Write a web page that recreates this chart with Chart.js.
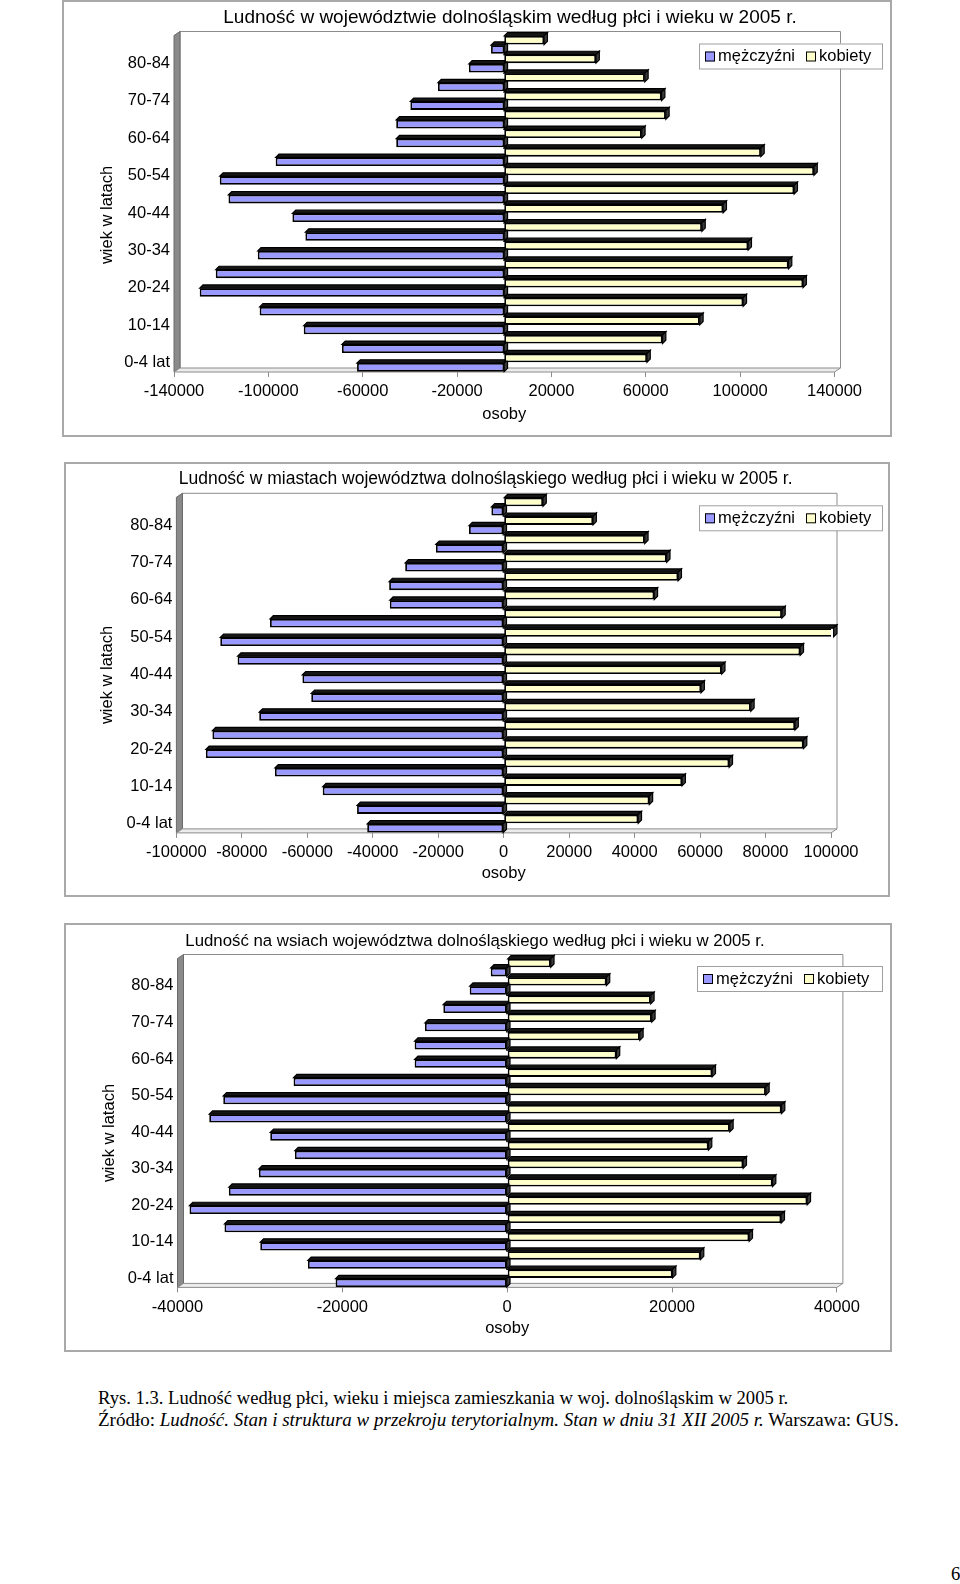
<!DOCTYPE html>
<html><head><meta charset="utf-8">
<script src="https://cdn.jsdelivr.net/npm/chart.js@4.4.1/dist/chart.umd.min.js"></script>
<style>
html,body{margin:0;padding:0;background:#fff;}
body{width:960px;height:1584px;overflow:hidden;position:relative;}
canvas{position:absolute;}
.frame{position:absolute;box-sizing:border-box;border:2px solid #a9a9a9;pointer-events:none;}
.cap{position:absolute;left:98px;font-family:"Liberation Serif","Times New Roman",serif;font-size:18.6px;line-height:19px;color:#000;white-space:nowrap;}
</style></head><body>
<canvas id="c1" width="830" height="437" style="left:62px;top:0px"></canvas>
<div class="frame" style="left:62px;top:0px;width:830px;height:437px"></div>
<canvas id="c2" width="826" height="435" style="left:64px;top:462px"></canvas>
<div class="frame" style="left:64px;top:462px;width:826px;height:435px"></div>
<canvas id="c3" width="828" height="429" style="left:64px;top:923px"></canvas>
<div class="frame" style="left:64px;top:923px;width:828px;height:429px"></div>
<div class="cap" style="top:1388px">Rys. 1.3. Ludność według płci, wieku i miejsca zamieszkania w woj. dolnośląskim w 2005 r.</div>
<div class="cap" style="top:1410px;font-size:19px">Źródło: <i>Ludność. Stan i struktura w przekroju terytorialnym. Stan w dniu 31 XII 2005 r.</i> Warszawa: GUS.</div>
<div class="cap" style="top:1564px;left:951px">6</div>
<script>
// ---- data (top to bottom of each pyramid) ----
const ageGroups = ['85 i więcej','80-84','75-79','70-74','65-69','60-64','55-59','50-54','45-49','40-44','35-39','30-34','25-29','20-24','15-19','10-14','5-9','0-4 lat'];
const seriesNames = ['mężczyźni','kobiety'];
const yAxisTitle = 'wiek w latach';
const xAxisTitle = 'osoby';

const title1 = 'Ludność w województwie dolnośląskim według płci i wieku w 2005 r.';
const menTotal   = [5600,15000,28100,39800,45800,45800,96900,120600,116900,89800,84300,104500,122300,129100,103700,85000,68800,62400];
const womenTotal = [16900,38900,59600,66700,68500,58300,108800,131300,122900,92800,83800,103400,120500,126700,101300,82900,67100,60500];
const ticks1 = [-140000,140000,40000];

const title2 = 'Ludność w miastach województwa dolnośląskiego według płci i wieku w 2005 r.';
const menUrban   = [3760,10600,20700,30100,35000,34800,71400,86600,81300,61500,58800,74700,89000,91000,69900,55300,44800,41700];
const womenUrban = [12000,27300,43100,49800,53300,46000,85000,100800,90600,66600,60300,75500,89000,91600,68900,54500,44500,41100];
const ticks2 = [-100000,100000,20000];

const title3 = 'Ludność na wsiach województwa dolnośląskiego według płci i wieku w 2005 r.';
const menRural   = [2000,4550,7750,9980,11230,11230,25920,34450,36150,28750,25760,30130,33770,38540,34300,29960,24180,20820];
const womenRural = [5280,12040,17420,17540,16090,13250,24870,31380,33280,27010,24420,28630,32190,36400,33240,29360,23450,20060];
const ticks3 = [-40000,40000,20000];

const MEN_COLOR = '#9999ff', WOMEN_COLOR = '#ffffcc';
const FONT_FAMILY = '"Liberation Sans", Arial, sans-serif';
const FONT_SIZE = 16.5;

Chart.defaults.font.family = FONT_FAMILY;
Chart.defaults.font.size = FONT_SIZE;
Chart.defaults.color = '#000';

// ---- decorative plugins (walls, 3D bar sides, titles, boxed legend) ----
const excel3d = {
  id: 'excel3d',
  beforeDatasetsDraw(chart) {
    const {ctx, chartArea: a} = chart;
    const dx = 6, dy = 4;
    ctx.save();
    ctx.lineWidth = 1;
    ctx.strokeStyle = '#8c8c8c';
    ctx.beginPath();
    ctx.moveTo(a.left + dx, a.bottom - dy);
    ctx.lineTo(a.left + dx, a.top - dy);
    ctx.lineTo(a.right + dx, a.top - dy);
    ctx.lineTo(a.right + dx, a.bottom - dy);
    ctx.stroke();
    ctx.beginPath();
    ctx.moveTo(a.left, a.top); ctx.lineTo(a.left + dx, a.top - dy);
    ctx.lineTo(a.left + dx, a.bottom - dy); ctx.lineTo(a.left, a.bottom); ctx.closePath();
    ctx.fillStyle = '#8a8a8a'; ctx.fill(); ctx.strokeStyle = '#6a6a6a'; ctx.stroke();
    ctx.beginPath();
    ctx.moveTo(a.left, a.bottom); ctx.lineTo(a.left + dx, a.bottom - dy);
    ctx.lineTo(a.right + dx, a.bottom - dy); ctx.lineTo(a.right, a.bottom); ctx.closePath();
    ctx.fillStyle = '#ececec'; ctx.fill(); ctx.strokeStyle = '#8c8c8c'; ctx.stroke();
    ctx.restore();
  },
  beforeDatasetDraw(chart, args) {
    const ctx = chart.ctx, d = 3.3;
    ctx.save();
    ctx.lineWidth = 1.2; ctx.strokeStyle = '#000';
    args.meta.data.forEach(el => {
      const p = el.getProps(['x', 'y', 'base', 'height'], true);
      const l = Math.min(p.x, p.base), r = Math.max(p.x, p.base);
      const t = p.y - p.height / 2, b = p.y + p.height / 2;
      ctx.beginPath(); ctx.moveTo(l, t); ctx.lineTo(l + d, t - d); ctx.lineTo(r + d, t - d); ctx.lineTo(r, t); ctx.closePath();
      ctx.fillStyle = '#161616'; ctx.fill(); ctx.stroke();
      ctx.beginPath(); ctx.moveTo(r, t); ctx.lineTo(r + d, t - d); ctx.lineTo(r + d, b - d); ctx.lineTo(r, b); ctx.closePath();
      ctx.fillStyle = '#3c3c3c'; ctx.fill(); ctx.stroke();
    });
    ctx.restore();
  }
};

const chartTitle = {
  id: 'chartTitle',
  afterDraw(chart, args, o) {
    const ctx = chart.ctx;
    ctx.save();
    ctx.fillStyle = '#000'; ctx.textAlign = 'center'; ctx.textBaseline = 'middle';
    ctx.font = o.size + 'px ' + FONT_FAMILY;
    ctx.fillText(o.text, o.x, o.y);
    ctx.font = FONT_SIZE + 'px ' + FONT_FAMILY;
    ctx.translate(o.axisX, o.axisY);
    ctx.rotate(-Math.PI / 2);
    ctx.fillText(o.axisText, 0, 0);
    ctx.restore();
  }
};

const boxLegend = {
  id: 'boxLegend',
  afterDraw(chart, args, o) {
    const ctx = chart.ctx;
    ctx.save();
    ctx.fillStyle = '#fff'; ctx.fillRect(o.x, o.y, o.w, o.h);
    ctx.strokeStyle = '#a0a0a0'; ctx.lineWidth = 1; ctx.strokeRect(o.x + 0.5, o.y + 0.5, o.w, o.h);
    ctx.font = FONT_SIZE + 'px ' + FONT_FAMILY; ctx.textBaseline = 'middle'; ctx.textAlign = 'left';
    const cy = o.y + o.h / 2 + 0.5;
    let x = o.x + 6;
    o.order.forEach(i => {
      const ds = chart.data.datasets[i];
      ctx.fillStyle = ds.backgroundColor; ctx.fillRect(x, cy - 5, 10, 10);
      ctx.strokeStyle = '#000'; ctx.strokeRect(x + 0.5, cy - 4.5, 9, 9);
      x += 13;
      ctx.fillStyle = '#000'; ctx.fillText(ds.label, x, cy);
      x += ctx.measureText(ds.label).width + 11;
    });
    ctx.restore();
  }
};

function makePyramid(id, title, men, women, tk, g) {
  return new Chart(document.getElementById(id), {
    type: 'bar',
    data: {
      labels: ageGroups,
      datasets: [
        { label: seriesNames[1], data: women, backgroundColor: WOMEN_COLOR },
        { label: seriesNames[0], data: men.map(v => -v), backgroundColor: MEN_COLOR }
      ]
    },
    options: {
      indexAxis: 'y',
      responsive: false,
      animation: false,
      devicePixelRatio: 1,
      datasets: { bar: { categoryPercentage: 1, barPercentage: 0.92, borderWidth: 1.8, borderColor: '#000', borderSkipped: false } },
      layout: { padding: { top: g.top, left: 0, right: g.W - g.right, bottom: 0 } },
      scales: {
        x: {
          type: 'linear', min: tk[0], max: tk[1],
          ticks: { stepSize: tk[2], padding: 5, callback: v => String(v), maxRotation: 0, autoSkip: false },
          grid: { display: true, drawOnChartArea: false, drawTicks: true, tickLength: 5, color: '#8c8c8c' },
          border: { display: false },
          title: { display: true, text: xAxisTitle, padding: { top: 0, bottom: g.xTitlePad } },
          afterFit: s => { s.height = g.H - g.bottom; }
        },
        y: {
          type: 'category',
          ticks: { autoSkip: false, padding: 4, callback: (v, i) => (i % 2 === 1 ? ageGroups[i] : '') },
          grid: { display: false, drawTicks: false },
          border: { display: false },
          title: { display: false, text: yAxisTitle },
          afterFit: s => { s.width = g.left; }
        }
      },
      plugins: {
        legend: { display: false },
        tooltip: { enabled: false },
        chartTitle: { text: title, size: g.titleSize, x: g.titleX, y: g.titleY, axisText: yAxisTitle, axisX: g.yTitleX, axisY: g.yTitleY },
        boxLegend: { x: g.legend[0], y: g.legend[1], w: g.legend[2], h: g.legend[3], order: [1, 0] }
      }
    },
    plugins: [excel3d, chartTitle, boxLegend]
  });
}

makePyramid('c1', title1, menTotal, womenTotal, ticks1,
  { W: 830, H: 437, left: 112, right: 772.5, top: 35.5, bottom: 372, titleSize: 19, titleX: 448, titleY: 17.5,
    legend: [637, 43.5, 183, 25], yTitleX: 45, yTitleY: 215, xTitlePad: 12.8 });
makePyramid('c2', title2, menUrban, womenUrban, ticks2,
  { W: 826, H: 435, left: 112.4, right: 767, top: 35.3, bottom: 370.9, titleSize: 17.5, titleX: 421.6, titleY: 17.5,
    legend: [635, 43.3, 183, 25], yTitleX: 43, yTitleY: 213, xTitlePad: 14 });
makePyramid('c3', title3, menRural, womenRural, ticks3,
  { W: 828, H: 429, left: 113.5, right: 772.9, top: 35.5, bottom: 364.4, titleSize: 16.8, titleX: 411, titleY: 18,
    legend: [633, 43, 185, 25], yTitleX: 45, yTitleY: 210, xTitlePad: 13.3 });
</script>
</body></html>
